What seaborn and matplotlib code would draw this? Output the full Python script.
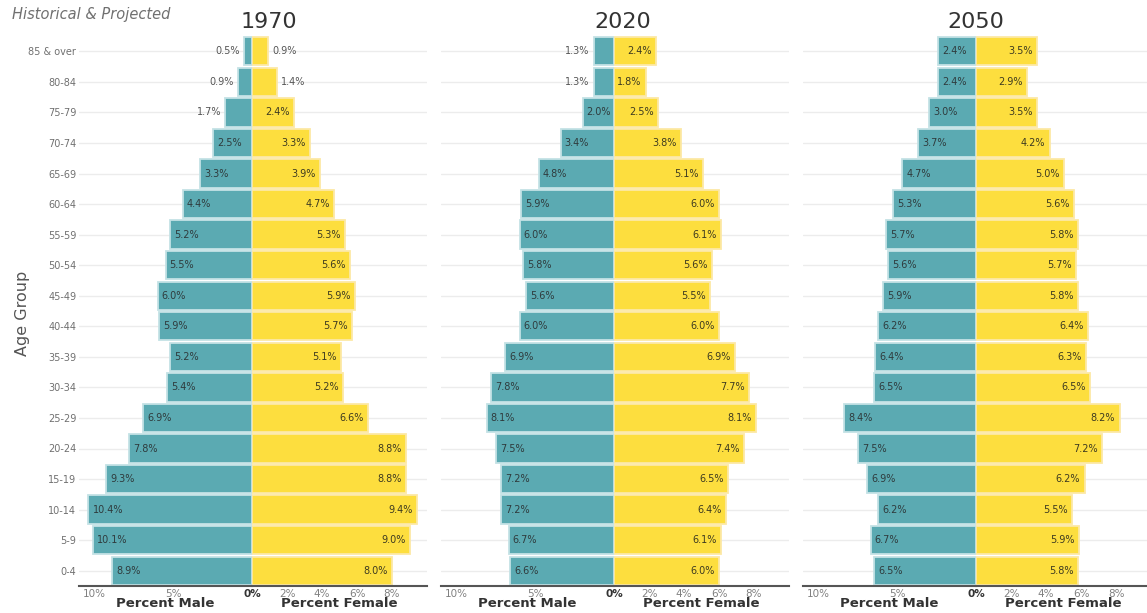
import pandas as pd
import matplotlib.pyplot as plt
import seaborn as sns

# Dữ liệu tháp dân số (%)
age_groups = ['85 & over', '80-84', '75-79', '70-74', '65-69', '60-64', '55-59',
              '50-54', '45-49', '40-44', '35-39', '30-34', '25-29', '20-24',
              '15-19', '10-14', '5-9', '0-4']
years = ['1970', '2020', '2050']

male_1970 = [0.5, 0.9, 1.7, 2.5, 3.3, 4.4, 5.2, 5.5, 6.0, 5.9, 5.2, 5.4, 6.9, 7.8, 9.3, 10.4, 10.1, 8.9]
female_1970 = [0.9, 1.4, 2.4, 3.3, 3.9, 4.7, 5.3, 5.6, 5.9, 5.7, 5.1, 5.2, 6.6, 8.8, 8.8, 9.4, 9.0, 8.0]
male_2020 = [1.3, 1.3, 2.0, 3.4, 4.8, 5.9, 6.0, 5.8, 5.6, 6.0, 6.9, 7.8, 8.1, 7.5, 7.2, 7.2, 6.7, 6.6]
female_2020 = [2.4, 1.8, 2.5, 3.8, 5.1, 6.0, 6.1, 5.6, 5.5, 6.0, 6.9, 7.7, 8.1, 7.4, 6.5, 6.4, 6.1, 6.0]
male_2050 = [2.4, 2.4, 3.0, 3.7, 4.7, 5.3, 5.7, 5.6, 5.9, 6.2, 6.4, 6.5, 8.4, 7.5, 6.9, 6.2, 6.7, 6.5]
female_2050 = [3.5, 2.9, 3.5, 4.2, 5.0, 5.6, 5.8, 5.7, 5.8, 6.4, 6.3, 6.5, 8.2, 7.2, 6.2, 5.5, 5.9, 5.8]

male_ticks = [10, 5, 0]
male_ticklabels = ['10%', '5%', '']
female_ticks = [0, 2, 4, 6, 8]
female_ticklabels = ['0%', '2%', '4%', '6%', '8%']

male_data = {'1970': male_1970, '2020': male_2020, '2050': male_2050}
female_data = {'1970': female_1970, '2020': female_2020, '2050': female_2050}

MALE_COLOR = '#5BAAB2'
MALE_EDGE = '#C4E2E5'
FEMALE_COLOR = '#FDDE3E'
FEMALE_EDGE = '#FCE8A6'

sns.set_style('white')
plt.rcParams['font.family'] = ['DejaVu Sans']

W, H = 1147, 613
fig = plt.figure(figsize=(W / 100, H / 100), dpi=100)


def px_axes(left, right, top, bottom):
    return fig.add_axes([left / W, 1 - bottom / H, (right - left) / W, (bottom - top) / H])


# vị trí điểm 0% của mỗi tháp (pixel)
zeros = {'1970': 252, '2020': 614, '2050': 976}
title_x = {'1970': 269, '2020': 623, '2050': 976}
TOP, BOTTOM = 36, 586
MALE_MAX, FEMALE_MAX = 11, 10
MALE_W, FEMALE_W = 173, 175


def style_axis(ax, ticks, labels):
    ax.set_xticks(ticks)
    ax.set_xticklabels(labels, fontsize=7.5, color='#808080')
    ax.tick_params(axis='both', length=0, pad=2)
    ax.grid(axis='y', color='#ececec', lw=1)
    ax.grid(axis='x', visible=False)
    ax.set_axisbelow(True)
    for s in ['top', 'left', 'right']:
        ax.spines[s].set_visible(False)
    ax.spines['bottom'].set_color('#555555')
    ax.spines['bottom'].set_linewidth(1.5)
    ax.set_ylabel('')


for year in years:
    z = zeros[year]
    df_m = pd.DataFrame({'age': age_groups, 'pct': male_data[year]})
    df_f = pd.DataFrame({'age': age_groups, 'pct': female_data[year]})

    # Nam
    ax_m = px_axes(z - MALE_W, z, TOP, BOTTOM)
    sns.barplot(data=df_m, x='pct', y='age', order=age_groups, orient='h', ax=ax_m,
                color=MALE_COLOR, saturation=1, width=0.93,
                edgecolor=MALE_EDGE, linewidth=1.3)
    ax_m.set_xlim(MALE_MAX, 0)
    style_axis(ax_m, male_ticks, male_ticklabels)
    ax_m.set_xlabel('Percent Male', fontsize=9.5, fontweight='bold', color='#333333', labelpad=-1)
    if year == '1970':
        ax_m.set_yticks(range(len(age_groups)))
        ax_m.set_yticklabels(age_groups, fontsize=7, color='#707070')
        ax_m.tick_params(axis='y', pad=2)
        fig.text(22 / W, 1 - 313 / H, 'Age Group', rotation=90, ha='center', va='center',
                 fontsize=11.5, color='#555555')
    else:
        ax_m.set_yticklabels([])

    for i, v in enumerate(male_data[year]):
        if v >= 1.8:
            ax_m.annotate(f'{v:.1f}%', (v, i), xytext=(3, 0), textcoords='offset points',
                          ha='left', va='center', fontsize=7, color='#2f3b3d')
        else:
            ax_m.annotate(f'{v:.1f}%', (v, i), xytext=(-3, 0), textcoords='offset points',
                          ha='right', va='center', fontsize=7, color='#555555')

    # Nữ
    ax_f = px_axes(z, z + FEMALE_W, TOP, BOTTOM)
    sns.barplot(data=df_f, x='pct', y='age', order=age_groups, orient='h', ax=ax_f,
                color=FEMALE_COLOR, saturation=1, width=0.93,
                edgecolor=FEMALE_EDGE, linewidth=1.3)
    ax_f.set_xlim(0, FEMALE_MAX)
    style_axis(ax_f, female_ticks, female_ticklabels)
    ax_f.get_xticklabels()[0].set_color('#333333')
    ax_f.get_xticklabels()[0].set_fontweight('bold')
    ax_f.set_yticklabels([])
    ax_f.set_xlabel('Percent Female', fontsize=9.5, fontweight='bold', color='#333333', labelpad=-1)

    for i, v in enumerate(female_data[year]):
        if v >= 1.8:
            ax_f.annotate(f'{v:.1f}%', (v, i), xytext=(-3, 0), textcoords='offset points',
                          ha='right', va='center', fontsize=7, color='#3d3a20')
        else:
            ax_f.annotate(f'{v:.1f}%', (v, i), xytext=(3, 0), textcoords='offset points',
                          ha='left', va='center', fontsize=7, color='#555555')

    fig.text(title_x[year] / W, 1 - 22 / H, year, ha='center', va='center',
             fontsize=16, color='#333333')

fig.text(12 / W, 1 - 14 / H, 'Historical & Projected', ha='left', va='center',
         fontsize=10.5, style='italic', color='#707070')

plt.savefig('out.png', dpi=100)
